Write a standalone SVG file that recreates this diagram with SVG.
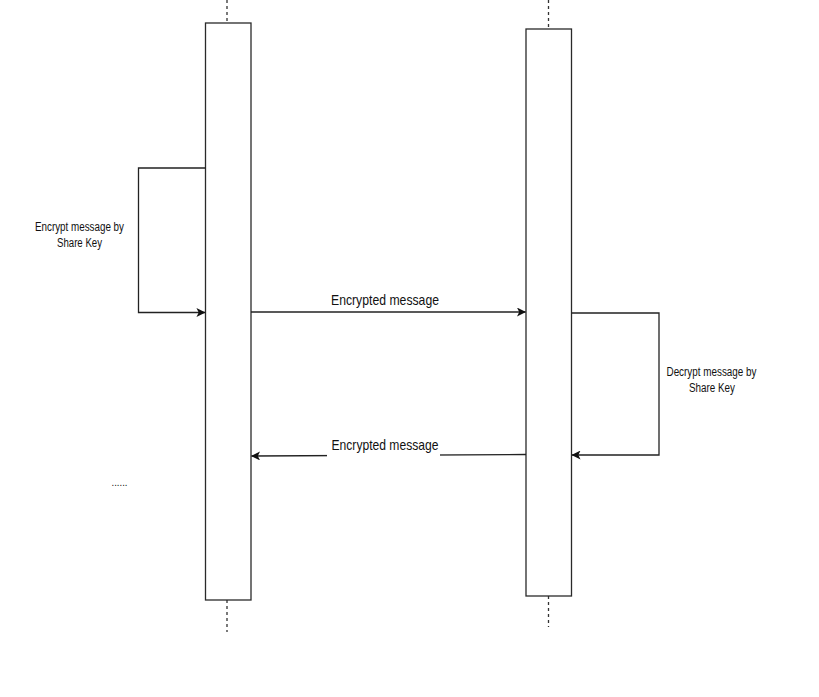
<svg xmlns="http://www.w3.org/2000/svg" width="819" height="697" viewBox="0 0 819 697">
<style>
.life{fill:#ffffff;stroke:#2a2a2a;stroke-width:1.3}
.dash{stroke:#333333;stroke-width:1.3;stroke-dasharray:3,3;fill:none}
.conn{stroke:#222222;stroke-width:1.3;fill:none}
.lbl{font-family:"Liberation Sans",Arial,sans-serif;fill:#111111;text-anchor:middle}
</style>
<defs>
<marker id="arr" viewBox="0 0 10 10" refX="9.5" refY="5" markerWidth="9" markerHeight="9" markerUnits="userSpaceOnUse" orient="auto">
<path d="M0,0 L10,5 L0,10 L2.5,5 Z" fill="#111111"/>
</marker>
</defs>
<rect width="819" height="697" fill="#ffffff"/>
<g id="lifeline-a">
<line class="dash" x1="227" y1="0" x2="227" y2="23"/>
<line class="dash" x1="227" y1="600" x2="227" y2="632"/>
<rect class="life" x="205.5" y="23" width="45.5" height="577"/>
</g>
<g id="lifeline-b">
<line class="dash" x1="548.5" y1="0" x2="548.5" y2="29"/>
<line class="dash" x1="548.5" y1="596" x2="548.5" y2="627"/>
<rect class="life" x="526" y="29" width="45.5" height="567"/>
</g>
<g id="connectors">
<polyline class="conn" points="205.5,168 138.5,168 138.5,312.5 205,312.5" marker-end="url(#arr)"/>
<line class="conn" x1="251" y1="312" x2="525.5" y2="312" marker-end="url(#arr)"/>
<polyline class="conn" points="571.5,313 659,313 659,455 572,455" marker-end="url(#arr)"/>
<line class="conn" x1="526" y1="454.5" x2="251.5" y2="456" marker-end="url(#arr)"/>
</g>
<g id="label-encrypt">
<text class="lbl" font-size="12.5" x="79.5" y="231" textLength="89" lengthAdjust="spacingAndGlyphs">Encrypt message by</text>
<text class="lbl" font-size="12.5" x="79.5" y="246.5" textLength="45" lengthAdjust="spacingAndGlyphs">Share Key</text>
</g>
<g id="label-msg1">
<text class="lbl" font-size="15" x="385" y="304.5" textLength="108" lengthAdjust="spacingAndGlyphs">Encrypted message</text>
</g>
<g id="label-decrypt">
<text class="lbl" font-size="12.5" x="711.5" y="376" textLength="90" lengthAdjust="spacingAndGlyphs">Decrypt message by</text>
<text class="lbl" font-size="12.5" x="712" y="391.5" textLength="46" lengthAdjust="spacingAndGlyphs">Share Key</text>
</g>
<g id="label-msg2">
<rect x="327" y="438" width="113" height="19" fill="#ffffff"/>
<text class="lbl" font-size="15" x="385" y="450" textLength="107" lengthAdjust="spacingAndGlyphs">Encrypted message</text>
</g>
<g id="label-dots">
<text class="lbl" font-size="10" x="119.5" y="486" textLength="16" lengthAdjust="spacingAndGlyphs">......</text>
</g>
</svg>
